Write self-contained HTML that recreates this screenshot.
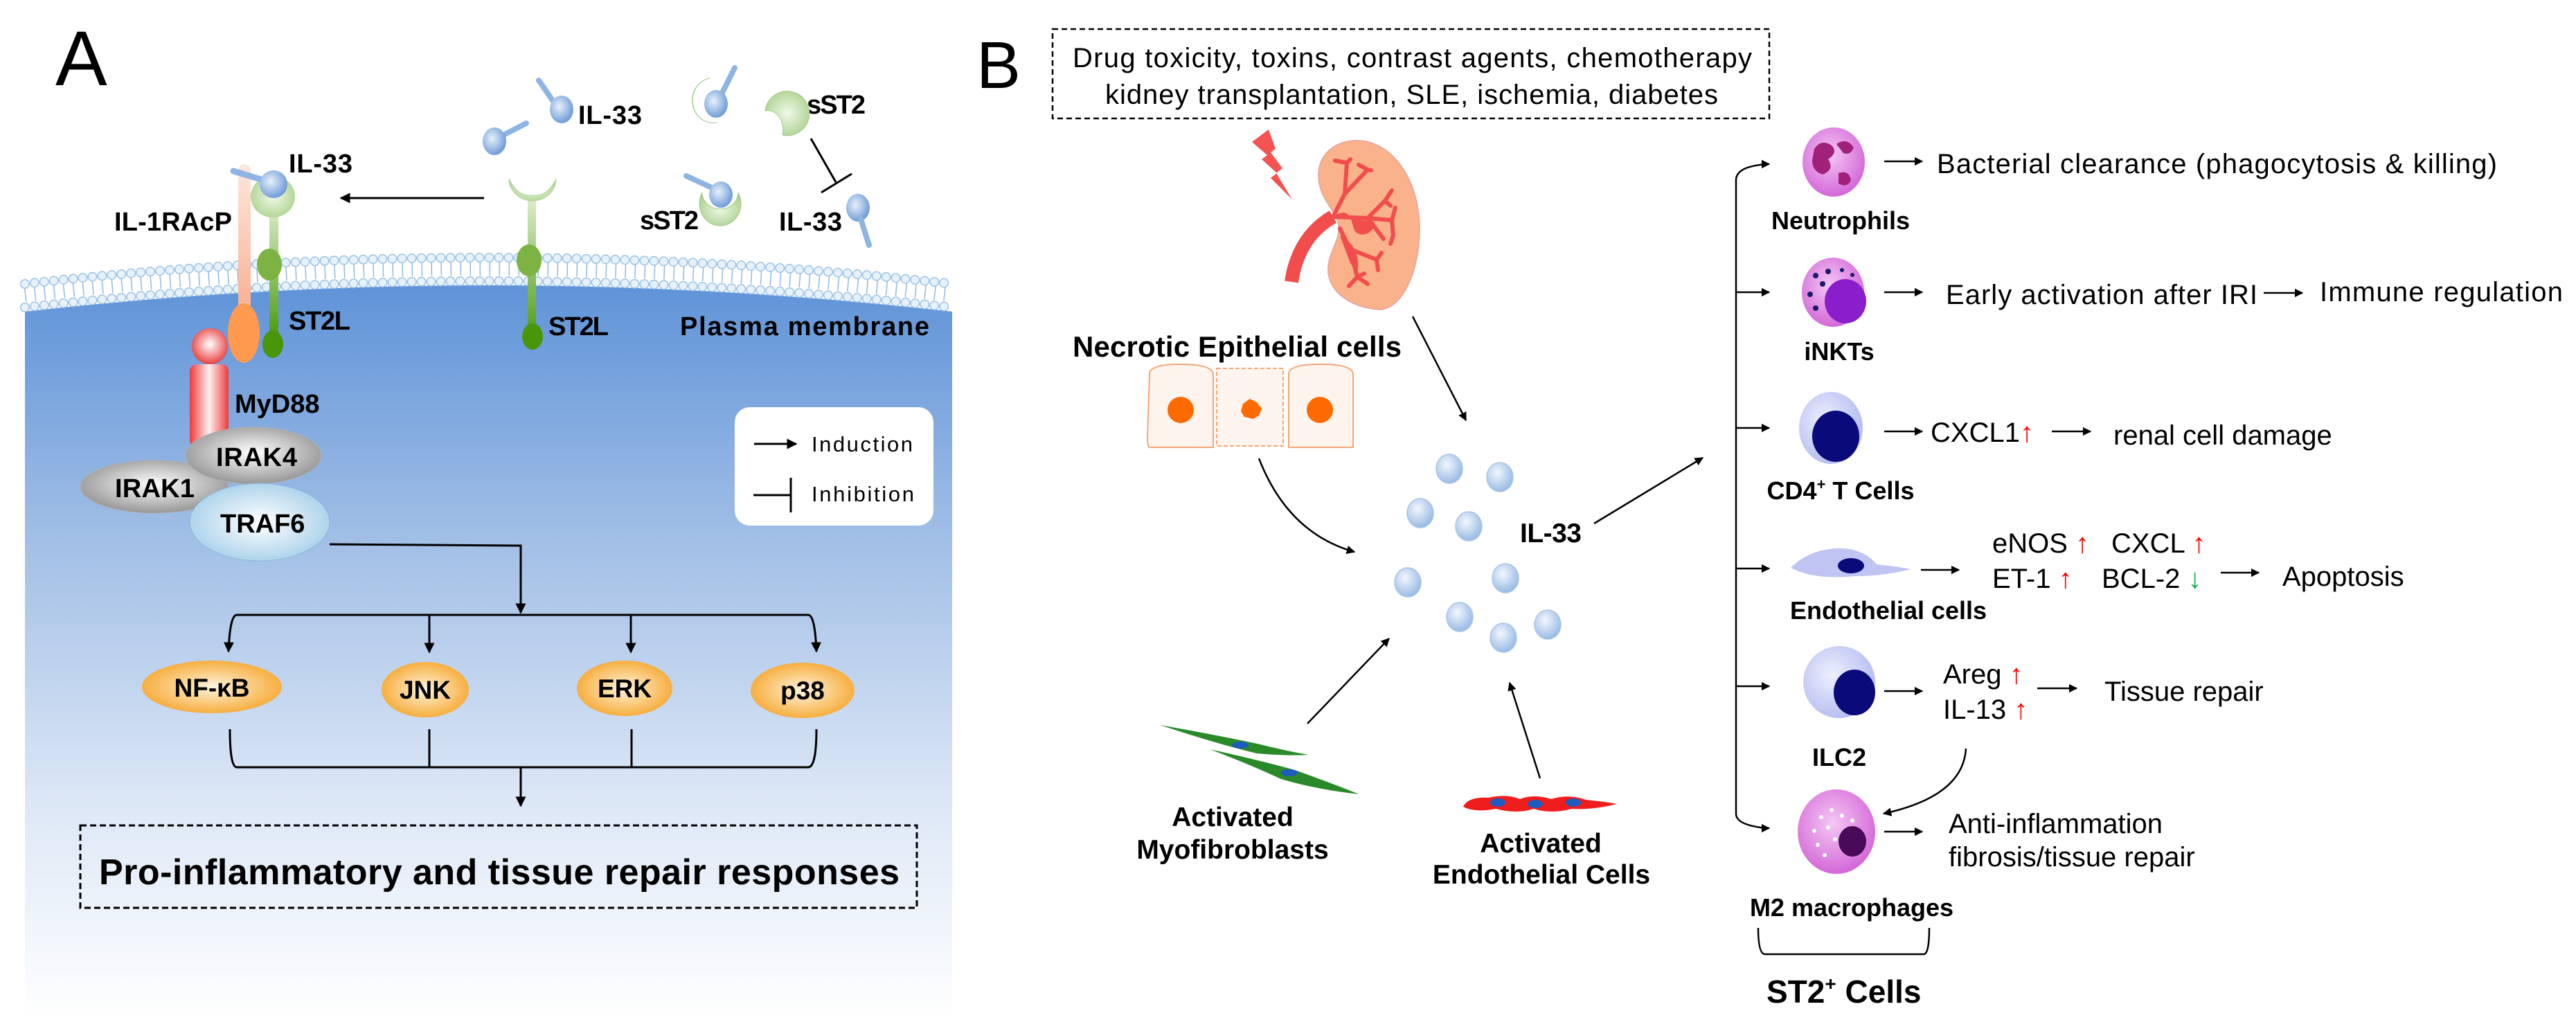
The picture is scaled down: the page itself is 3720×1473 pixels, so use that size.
<!DOCTYPE html>
<html><head><meta charset="utf-8"><style>html,body{margin:0;padding:0;background:#fff}svg{display:block}</style></head>
<body>
<svg width="3720" height="1473" viewBox="0 0 3720 1473" xmlns="http://www.w3.org/2000/svg" font-family="Liberation Sans, sans-serif">
<defs>
<linearGradient id="bg" x1="0" y1="0" x2="0" y2="1" gradientUnits="objectBoundingBox">
<stop offset="0" stop-color="#5f93d8"/><stop offset="0.35" stop-color="#a2bfe6"/><stop offset="0.7" stop-color="#dce7f6"/><stop offset="1" stop-color="#ffffff"/></linearGradient>
<radialGradient id="ball" cx="0.4" cy="0.35" r="0.7"><stop offset="0" stop-color="#f2f7fd"/><stop offset="1" stop-color="#93b6e3"/></radialGradient>
<radialGradient id="bball" cx="0.4" cy="0.4" r="0.7"><stop offset="0" stop-color="#e8f1fb"/><stop offset="1" stop-color="#5d8fd3"/></radialGradient>
<radialGradient id="gray" cx="0.5" cy="0.45" r="0.6"><stop offset="0" stop-color="#ffffff"/><stop offset="1" stop-color="#8d8d8d"/></radialGradient>
<radialGradient id="traf" cx="0.5" cy="0.5" r="0.6"><stop offset="0" stop-color="#ffffff"/><stop offset="1" stop-color="#9fcbe8"/></radialGradient>
<radialGradient id="org" cx="0.5" cy="0.5" r="0.6"><stop offset="0" stop-color="#fff4dc"/><stop offset="1" stop-color="#f5a020"/></radialGradient>
<radialGradient id="red" cx="0.5" cy="0.45" r="0.6"><stop offset="0" stop-color="#ffffff"/><stop offset="1" stop-color="#e83030"/></radialGradient>
<linearGradient id="redbar" x1="0" x2="1"><stop offset="0" stop-color="#ee3a3a"/><stop offset="0.5" stop-color="#fff0f0"/><stop offset="1" stop-color="#ee3a3a"/></linearGradient>
<linearGradient id="peach" x1="0" x2="0" y1="0" y2="1"><stop offset="0" stop-color="#fde7dc"/><stop offset="1" stop-color="#f7a98a"/></linearGradient>
<linearGradient id="grn" x1="0" x2="0" y1="0" y2="1"><stop offset="0" stop-color="#d9ebc8"/><stop offset="1" stop-color="#4d9a10"/></linearGradient>
<radialGradient id="cup" cx="0.5" cy="0.5" r="0.6"><stop offset="0" stop-color="#f0f8e8"/><stop offset="1" stop-color="#a9d08a"/></radialGradient>
<radialGradient id="pink" cx="0.45" cy="0.4" r="0.6"><stop offset="0" stop-color="#f5c7f5"/><stop offset="1" stop-color="#d468d8"/></radialGradient>
<radialGradient id="lav" cx="0.4" cy="0.4" r="0.6"><stop offset="0" stop-color="#eef0ff"/><stop offset="1" stop-color="#b7bff0"/></radialGradient>
<marker id="ah" viewBox="0 0 10 10" refX="9" refY="5" markerWidth="5" markerHeight="5" orient="auto"><path d="M0,0L10,5L0,10z" fill="#000"/></marker>
</defs>

<!-- ===== Panel A ===== -->
<text x="80" y="123" font-size="112">A</text>
<path d="M36,450 Q705,374 1375,450 L1375,1473 L36,1473 Z" fill="url(#bg)"/>
<!-- membrane -->
<path d="M36,426 Q705,350 1375,426" fill="none" stroke="#8fb8e0" stroke-width="20" stroke-dasharray="1.5 12.5"/>
<path d="M36,410 Q705,334 1375,410" fill="none" stroke="#9cc2e6" stroke-width="14" stroke-linecap="round" stroke-dasharray="0 14"/>
<path d="M36,410 Q705,334 1375,410" fill="none" stroke="#e6f1fa" stroke-width="11" stroke-linecap="round" stroke-dasharray="0 14"/>
<path d="M36,444 Q705,368 1375,444" fill="none" stroke="#9cc2e6" stroke-width="14" stroke-linecap="round" stroke-dasharray="0 14"/>
<path d="M36,444 Q705,368 1375,444" fill="none" stroke="#e6f1fa" stroke-width="11" stroke-linecap="round" stroke-dasharray="0 14"/>

<!-- left receptor complex -->
<rect x="344" y="237" width="18" height="240" rx="9" fill="url(#peach)"/>
<ellipse cx="352" cy="481" rx="23" ry="43" fill="#ff9a50"/>
<rect x="389" y="300" width="13" height="185" fill="url(#grn)"/>
<ellipse cx="394" cy="284" rx="32" ry="30" fill="url(#cup)"/>
<ellipse cx="389" cy="382" rx="18" ry="23" fill="#7cb342"/>
<ellipse cx="394" cy="497" rx="15" ry="20" fill="#4a960a"/>
<line x1="337" y1="247" x2="380" y2="260" stroke="#8fb4e4" stroke-width="9" stroke-linecap="round"/>
<circle cx="395" cy="266" r="20" fill="url(#bball)"/>
<ellipse cx="303" cy="500" rx="26" ry="26" fill="url(#red)"/>
<rect x="274" y="526" width="56" height="120" rx="10" fill="url(#redbar)"/>
<ellipse cx="223" cy="703" rx="107" ry="38" fill="url(#gray)" stroke="#b0b0b0"/>
<ellipse cx="366" cy="658" rx="98" ry="41" fill="url(#gray)" stroke="#b0b0b0"/>
<ellipse cx="375" cy="754" rx="101" ry="56" fill="url(#traf)" stroke="#8ab6d8"/>
<g font-weight="bold" font-size="38" fill="#000">
<text x="417" y="249" textLength="92">IL-33</text>
<text x="165" y="333" textLength="170">IL-1RAcP</text>
<text x="417" y="476" textLength="89">ST2L</text>
<text x="792" y="484" textLength="87">ST2L</text>
<text x="982" y="484" textLength="360">Plasma membrane</text>
<text x="835" y="179" textLength="92">IL-33</text>
<text x="1165" y="164" textLength="85">sST2</text>
<text x="924" y="331" textLength="85">sST2</text>
<text x="1125" y="333" textLength="91">IL-33</text>
<text x="339" y="596">MyD88</text>
<text x="312" y="673" textLength="117">IRAK4</text>
<text x="166" y="718" textLength="115">IRAK1</text>
<text x="318" y="769">TRAF6</text>
</g>
<line x1="699" y1="286" x2="492" y2="286" stroke="#000" stroke-width="3" marker-end="url(#ah)"/>
<!-- middle receptor -->
<rect x="762" y="290" width="12" height="200" fill="url(#grn)"/>
<path d="M735,258 A34,32 0 1 0 803,258 Q790,285 769,282 Q748,285 735,258Z" fill="url(#cup)" stroke="#b5d59b"/>
<ellipse cx="764" cy="376" rx="18" ry="23" fill="#7cb342"/>
<ellipse cx="769" cy="486" rx="15" ry="19" fill="#4a960a"/>
<!-- free IL-33 -->
<line x1="760" y1="178" x2="725" y2="196" stroke="#8fb4e4" stroke-width="8" stroke-linecap="round"/>
<ellipse cx="714" cy="204" rx="17" ry="20" fill="url(#bball)"/>
<line x1="778" y1="116" x2="800" y2="148" stroke="#8fb4e4" stroke-width="8" stroke-linecap="round"/>
<ellipse cx="811" cy="158" rx="17" ry="20" fill="url(#bball)"/>
<!-- sST2 complexes -->
<path d="M1025,113 A30,32 0 1 0 1035,177 A24,26 0 0 1 1025,113Z" fill="url(#cup)" stroke="#9fc88a"/>
<line x1="1061" y1="98" x2="1040" y2="140" stroke="#8fb4e4" stroke-width="8" stroke-linecap="round"/>
<ellipse cx="1034" cy="150" rx="17" ry="20" fill="url(#bball)"/>
<path d="M1105,160 A32,32 0 1 1 1130,195 A22,28 0 0 0 1105,160Z" fill="url(#cup)" stroke="#9fc88a"/>
<path d="M1014,278 A30,32 0 1 0 1066,278 A24,22 0 0 1 1014,278Z" fill="url(#cup)" stroke="#9fc88a"/>
<line x1="991" y1="254" x2="1030" y2="272" stroke="#8fb4e4" stroke-width="8" stroke-linecap="round"/>
<ellipse cx="1041" cy="281" rx="17" ry="19" fill="url(#bball)"/>
<ellipse cx="1239" cy="300" rx="17" ry="20" fill="url(#bball)"/>
<line x1="1243" y1="316" x2="1255" y2="354" stroke="#8fb4e4" stroke-width="8" stroke-linecap="round"/>
<line x1="1171" y1="200" x2="1207" y2="263" stroke="#000" stroke-width="3"/>
<line x1="1186" y1="278" x2="1230" y2="251" stroke="#000" stroke-width="3"/>
<!-- legend -->
<rect x="1061" y="588" width="287" height="171" rx="22" fill="#fff"/>
<line x1="1089" y1="641" x2="1150" y2="641" stroke="#000" stroke-width="3" marker-end="url(#ah)"/>
<text x="1172" y="652" font-size="31" textLength="146">Induction</text>
<line x1="1088" y1="715" x2="1142" y2="715" stroke="#000" stroke-width="3"/>
<line x1="1142" y1="690" x2="1142" y2="740" stroke="#000" stroke-width="3"/>
<text x="1172" y="724" font-size="31" textLength="148">Inhibition</text>
<!-- signaling lines -->
<polyline points="476,786 752,788 752,885" fill="none" stroke="#000" stroke-width="3" marker-end="url(#ah)"/>
<path d="M620,888 H342 Q332,888 330,941" fill="none" stroke="#000" stroke-width="3" marker-end="url(#ah)"/>
<path d="M620,888 H1167 Q1177,888 1179,941" fill="none" stroke="#000" stroke-width="3" marker-end="url(#ah)"/>
<line x1="620" y1="888" x2="620" y2="942" stroke="#000" stroke-width="3" marker-end="url(#ah)"/>
<line x1="911" y1="888" x2="911" y2="942" stroke="#000" stroke-width="3" marker-end="url(#ah)"/>
<ellipse cx="306" cy="992" rx="101" ry="38" fill="url(#org)"/>
<ellipse cx="614" cy="996" rx="63" ry="40" fill="url(#org)"/>
<ellipse cx="902" cy="994" rx="69" ry="40" fill="url(#org)"/>
<ellipse cx="1159" cy="997" rx="75" ry="40" fill="url(#org)"/>
<g font-weight="bold" font-size="37" text-anchor="middle">
<text x="306" y="1006">NF-κB</text>
<text x="614" y="1009">JNK</text>
<text x="902" y="1007">ERK</text>
<text x="1159" y="1010">p38</text>
</g>
<path d="M332,1053 Q332,1108 342,1108 H1167 Q1179,1108 1179,1053" fill="none" stroke="#000" stroke-width="3"/>
<line x1="620" y1="1053" x2="620" y2="1108" stroke="#000" stroke-width="3"/>
<line x1="912" y1="1053" x2="912" y2="1108" stroke="#000" stroke-width="3"/>
<line x1="752" y1="1108" x2="752" y2="1164" stroke="#000" stroke-width="3" marker-end="url(#ah)"/>
<rect x="116" y="1192" width="1208" height="119" fill="none" stroke="#000" stroke-width="3" stroke-dasharray="9 5"/>
<text x="143" y="1277" font-size="52" font-weight="bold" textLength="1156">Pro-inflammatory and tissue repair responses</text>

<!-- ===== Panel B ===== -->
<text x="1410" y="127" font-size="96">B</text>
<rect x="1520" y="42" width="1035" height="129" fill="none" stroke="#000" stroke-width="2.5" stroke-dasharray="8 5"/>
<text x="1549" y="97" font-size="40" textLength="981">Drug toxicity, toxins, contrast agents, chemotherapy</text>
<text x="1596" y="150" font-size="40" textLength="885">kidney transplantation, SLE, ischemia, diabetes</text>
<polygon points="1808,205 1832,187 1842,215 1835,220 1852,243 1843,250 1866,288 1835,257 1844,250 1822,230 1830,224" fill="#f55252"/>
<path d="M1955,203 C2010,200 2050,260 2050,330 C2050,400 2020,450 1990,447 C1950,444 1915,420 1918,385 C1920,360 1938,345 1932,320 C1925,300 1905,285 1904,255 C1903,225 1925,205 1955,203Z" fill="#f9b28a" stroke="#e8a0a0" stroke-width="1.5"/>
<path d="M1865,407 C1872,360 1895,330 1925,313" fill="none" stroke="#f24d4d" stroke-width="20"/>
<g fill="none" stroke="#f24d4d" stroke-width="6" stroke-linecap="round">
<path d="M1925,313 L1942,280 L1945,235 M1942,280 L1975,245 M1945,235 L1928,232 M1945,235 L1950,230 M1975,245 L1962,238 M1975,245 L1980,246"/>
<path d="M1925,313 L1975,315 L2010,318 M1975,315 L2000,290 L2010,275 M2000,290 L2008,297 M2010,318 L2015,300 M2010,318 L2012,340 L2008,352 M1975,315 L1998,345"/>
<path d="M1935,330 L1950,360 L1960,400 L1948,413 M1960,400 L1975,410 M1950,360 L1988,375 L1995,365 M1988,375 L1990,390 M1960,400 L1970,395"/>
</g>
<path d="M1925,313 C1945,300 1950,310 1955,330 C1960,345 1985,340 1985,320" fill="#f24d4d"/>
<path d="M1935,340 C1955,350 1965,370 1960,395 L1950,380 Z" fill="#f24d4d"/>
<text x="1549" y="515" font-size="42" font-weight="bold" textLength="475">Necrotic Epithelial cells</text>
<path d="M1660,540 Q1660,526 1705,526 Q1750,526 1752,540 L1752,646 L1660,646 Q1657,646 1657,630 Z" fill="#fef4ee" stroke="#f5a673" stroke-width="2"/>
<path d="M1861,540 Q1861,526 1907,526 Q1953,526 1954,540 L1954,646 L1861,646 Z" fill="#fef4ee" stroke="#f5a673" stroke-width="2"/>
<rect x="1757" y="532" width="96" height="112" fill="#fef4ee" stroke="#f5a673" stroke-width="2" stroke-dasharray="6 3"/>
<circle cx="1705" cy="592" r="19" fill="#ff6a00"/>
<circle cx="1906" cy="592" r="19" fill="#ff6a00"/>
<path d="M1795,583 L1805,576 L1815,581 L1822,590 L1818,600 L1810,605 L1797,602 L1792,594Z" fill="#ff6a00"/>
<path d="M1818,662 Q1860,770 1956,797" fill="none" stroke="#000" stroke-width="2.5" marker-end="url(#ah)"/>
<line x1="2040" y1="457" x2="2117" y2="607" stroke="#000" stroke-width="2.5" marker-end="url(#ah)"/>
<g fill="url(#ball)" stroke="#a8c4e8" stroke-width="1.5">
<ellipse cx="2093" cy="677" rx="19" ry="21"/><ellipse cx="2166" cy="689" rx="19" ry="21"/>
<ellipse cx="2051" cy="741" rx="19" ry="21"/><ellipse cx="2121" cy="760" rx="19" ry="21"/>
<ellipse cx="2033" cy="841" rx="19" ry="21"/><ellipse cx="2174" cy="835" rx="19" ry="21"/>
<ellipse cx="2108" cy="891" rx="19" ry="21"/><ellipse cx="2171" cy="921" rx="19" ry="21"/>
<ellipse cx="2235" cy="902" rx="19" ry="21"/>
</g>
<text x="2195" y="783" font-size="39" font-weight="bold" textLength="89">IL-33</text>
<line x1="2302" y1="756" x2="2459" y2="661" stroke="#000" stroke-width="2.5" marker-end="url(#ah)"/>
<line x1="1888" y1="1045" x2="2006" y2="922" stroke="#000" stroke-width="2.5" marker-end="url(#ah)"/>
<line x1="2224" y1="1124" x2="2180" y2="986" stroke="#000" stroke-width="2.5" marker-end="url(#ah)"/>
<path d="M1675,1047 Q1760,1062 1820,1075 Q1860,1085 1890,1090 Q1860,1092 1815,1088 Q1760,1075 1675,1047Z" fill="#2a8a2a"/>
<path d="M1747,1082 Q1820,1098 1870,1112 Q1920,1130 1963,1147 Q1900,1140 1850,1125 Q1800,1102 1747,1082Z" fill="#2a8a2a"/>
<ellipse cx="1791" cy="1076" rx="12" ry="5" fill="#1e5bbf"/>
<ellipse cx="1862" cy="1116" rx="12" ry="5" fill="#1e5bbf"/>
<g font-size="39" font-weight="bold" text-anchor="middle">
<text x="1780" y="1193">Activated</text>
<text x="1780" y="1240">Myofibroblasts</text>
<text x="2225" y="1231">Activated</text>
<text x="2226" y="1276">Endothelial Cells</text>
</g>
<path d="M2113,1165 Q2120,1150 2150,1152 Q2175,1146 2195,1154 Q2215,1146 2240,1154 Q2265,1146 2290,1155 Q2320,1158 2335,1161 Q2300,1170 2270,1168 Q2240,1176 2215,1168 Q2190,1176 2160,1168 Q2130,1174 2113,1165Z" fill="#ef1d1d"/>
<ellipse cx="2163" cy="1159" rx="11" ry="6" fill="#1e5bbf"/>
<ellipse cx="2217" cy="1161" rx="11" ry="6" fill="#1e5bbf"/>
<ellipse cx="2272" cy="1159" rx="11" ry="6" fill="#1e5bbf"/>
<path d="M2552,237 Q2507,240 2507,260 V1175 Q2507,1192 2552,1196" fill="none" stroke="#000" stroke-width="2.5"/>
<g stroke="#000" stroke-width="2.5" marker-end="url(#ah)">
<line x1="2545" y1="237" x2="2555" y2="237"/>
<line x1="2507" y1="422" x2="2555" y2="422"/>
<line x1="2507" y1="618" x2="2555" y2="618"/>
<line x1="2507" y1="821" x2="2555" y2="821"/>
<line x1="2507" y1="991" x2="2555" y2="991"/>
<line x1="2545" y1="1196" x2="2555" y2="1196"/>
<line x1="2721" y1="233" x2="2776" y2="233"/>
<line x1="2721" y1="422" x2="2776" y2="422"/>
<line x1="3269" y1="423" x2="3325" y2="423"/>
<line x1="2721" y1="623" x2="2776" y2="623"/>
<line x1="2963" y1="623" x2="3019" y2="623"/>
<line x1="2774" y1="823" x2="2829" y2="823"/>
<line x1="3207" y1="827" x2="3262" y2="827"/>
<line x1="2721" y1="998" x2="2776" y2="998"/>
<line x1="2942" y1="994" x2="2999" y2="994"/>
<line x1="2721" y1="1201" x2="2776" y2="1201"/>
</g>
<path d="M2839,1081 Q2835,1150 2720,1175" fill="none" stroke="#000" stroke-width="2.5" marker-end="url(#ah)"/>
<ellipse cx="2648" cy="234" rx="45" ry="50" fill="url(#pink)"/>
<path d="M2620,215 q10,-15 25,-5 q10,10 -5,20 q10,15 -8,22 q-15,-5 -15,-20z M2652,208 q15,-10 25,5 q-5,12 -15,8z M2655,250 q15,-5 18,10 q-5,12 -18,5z" fill="#a0207a"/>
<ellipse cx="2647" cy="422" rx="45" ry="50" fill="url(#pink)"/>
<ellipse cx="2665" cy="435" rx="30" ry="32" fill="#8a1ecc"/>
<g fill="#1a1a6e"><circle cx="2622" cy="398" r="4"/><circle cx="2640" cy="392" r="4"/><circle cx="2660" cy="390" r="3"/><circle cx="2614" cy="425" r="4"/><circle cx="2622" cy="445" r="4"/><circle cx="2632" cy="410" r="4"/><circle cx="2675" cy="397" r="3"/></g>
<ellipse cx="2644" cy="618" rx="46" ry="52" fill="url(#lav)"/>
<ellipse cx="2651" cy="630" rx="34" ry="37" fill="#0a0a7a"/>
<path d="M2586,820 Q2610,795 2650,792 Q2690,790 2710,815 Q2740,818 2759,822 Q2720,832 2680,832 Q2620,838 2586,820Z" fill="#bfc4f3"/>
<ellipse cx="2673" cy="817" rx="19" ry="11" fill="#0a0a7a"/>
<ellipse cx="2656" cy="985" rx="52" ry="52" fill="url(#lav)"/>
<ellipse cx="2678" cy="1000" rx="30" ry="33" fill="#0a0a7a"/>
<ellipse cx="2652" cy="1201" rx="56" ry="61" fill="url(#pink)"/>
<g fill="#fff"><circle cx="2630" cy="1180" r="3"/><circle cx="2645" cy="1170" r="3"/><circle cx="2620" cy="1200" r="3"/><circle cx="2640" cy="1195" r="3"/><circle cx="2625" cy="1220" r="3"/><circle cx="2660" cy="1178" r="3"/><circle cx="2675" cy="1185" r="3"/><circle cx="2635" cy="1235" r="3"/><circle cx="2650" cy="1212" r="3"/><circle cx="2685" cy="1230" r="3"/></g>
<ellipse cx="2675" cy="1215" rx="20" ry="22" fill="#4a0a5a"/>
<g font-size="36" font-weight="bold" text-anchor="middle">
<text x="2658" y="331">Neutrophils</text>
<text x="2656" y="520">iNKTs</text>
<text x="2658" y="721">CD4<tspan font-size="22" dy="-14">+</tspan><tspan dy="14"> T Cells</tspan></text>
<text x="2727" y="894">Endothelial cells</text>
<text x="2656" y="1106">ILC2</text>
<text x="2674" y="1323">M2 macrophages</text>
</g>
<g font-size="40">
<text x="2797" y="250" textLength="809">Bacterial clearance (phagocytosis &amp; killing)</text>
<text x="2810" y="439" textLength="450">Early activation after IRI</text>
<text x="3350" y="435" textLength="351">Immune regulation</text>
<text x="2788" y="638">CXCL1<tspan fill="#f00">↑</tspan></text>
<text x="3052" y="642">renal cell damage</text>
<text x="2877" y="798">eNOS <tspan fill="#f00">↑</tspan></text>
<text x="3049" y="798">CXCL <tspan fill="#f00">↑</tspan></text>
<text x="2877" y="849">ET-1 <tspan fill="#f00">↑</tspan></text>
<text x="3035" y="849">BCL-2 <tspan fill="#10b050">↓</tspan></text>
<text x="3296" y="846">Apoptosis</text>
<text x="2806" y="987">Areg <tspan fill="#f00">↑</tspan></text>
<text x="2806" y="1038">IL-13 <tspan fill="#f00">↑</tspan></text>
<text x="3039" y="1012">Tissue repair</text>
<text x="2814" y="1203">Anti-inflammation</text>
<text x="2814" y="1251">fibrosis/tissue repair</text>
</g>
<path d="M2539,1340 Q2539,1378 2549,1378 H2778 Q2786,1378 2786,1340" fill="none" stroke="#000" stroke-width="2.5"/>
<text x="2551" y="1448" font-size="46" font-weight="bold">ST2<tspan font-size="28" dy="-18">+</tspan><tspan dy="18"> Cells</tspan></text>
</svg>
</body></html>
